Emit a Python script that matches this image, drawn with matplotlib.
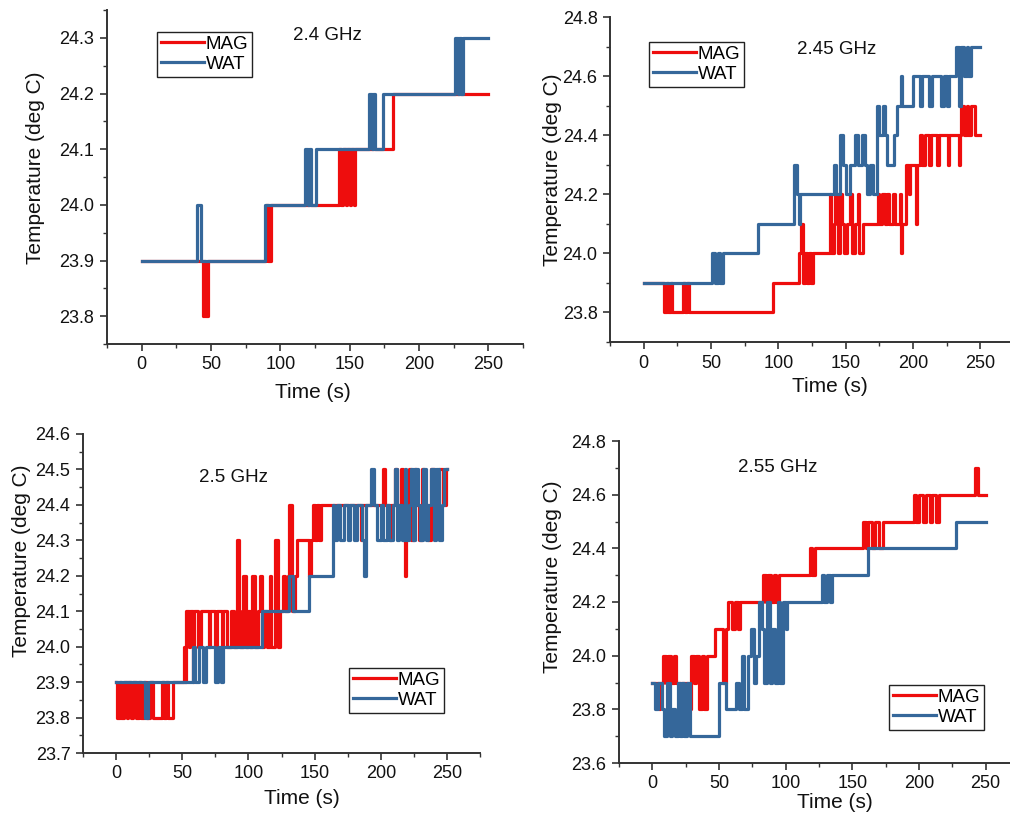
import matplotlib
matplotlib.use("Agg")
import matplotlib.pyplot as plt
from matplotlib.ticker import MultipleLocator, FormatStrFormatter

plt.rcParams['font.family'] = ['Liberation Sans', 'DejaVu Sans']

# ---- data: change points (time s, temperature deg C), held until next point ----
mag24_t = [0, 44, 45, 46, 48, 90, 91, 93, 142, 144, 145, 147, 148, 150, 151, 153, 154, 181, 250]
mag24_v = [23.9, 23.8, 23.9, 23.8, 23.9, 24.0, 23.9, 24.0, 24.1, 24.0, 24.1, 24.0, 24.1, 24.0, 24.1, 24.0, 24.1, 24.2, 24.2]
wat24_t = [0, 40, 43, 89, 118, 120, 121, 122, 126, 164, 166, 167, 168, 174, 226, 228, 229, 230, 232, 250]
wat24_v = [23.9, 24.0, 23.9, 24.0, 24.1, 24.0, 24.1, 24.0, 24.1, 24.2, 24.1, 24.2, 24.1, 24.2, 24.3, 24.2, 24.3, 24.2, 24.3, 24.3]

mag245_t = [0, 15, 17, 18, 20, 21, 29, 31, 32, 34, 96, 115, 117, 118, 120, 121, 123, 124, 126,
            138, 139, 141, 142, 144, 146, 147, 149, 151, 153, 155, 157, 159, 160, 163, 174, 175, 177,
            179, 181, 182, 185, 187, 190, 191, 192, 195, 197, 198, 202, 203, 205, 207, 209, 212, 213,
            218, 219, 226, 227, 234, 235, 236, 238, 240, 241, 243, 246, 250]
mag245_v = [23.9, 23.8, 23.9, 23.8, 23.9, 23.8, 23.9, 23.8, 23.9, 23.8, 23.9, 24.0, 24.1, 23.9, 24.0, 23.9, 24.0, 23.9, 24.0,
            24.2, 24.0, 24.1, 24.2, 24.0, 24.2, 24.1, 24.0, 24.1, 24.2, 24.0, 24.1, 24.2, 24.0, 24.1, 24.2, 24.1, 24.2,
            24.1, 24.2, 24.1, 24.2, 24.1, 24.2, 24.0, 24.1, 24.3, 24.2, 24.3, 24.1, 24.3, 24.4, 24.3, 24.4, 24.3, 24.4,
            24.3, 24.4, 24.3, 24.4, 24.3, 24.4, 24.5, 24.4, 24.5, 24.4, 24.5, 24.4, 24.4]
wat245_t = [0, 51, 53, 55, 57, 59, 85, 112, 114, 115, 116, 141, 143, 146, 148, 150, 153, 157, 159, 162,
            164, 166, 168, 170, 173, 175, 178, 179, 181, 186, 188, 191, 192, 200, 205, 207, 212, 214, 221,
            223, 225, 227, 232, 234, 236, 238, 240, 241, 243, 250]
wat245_v = [23.9, 24.0, 23.9, 24.0, 23.9, 24.0, 24.1, 24.3, 24.2, 24.1, 24.2, 24.3, 24.2, 24.4, 24.3, 24.2, 24.3, 24.4, 24.3, 24.4,
            24.3, 24.2, 24.3, 24.2, 24.5, 24.4, 24.5, 24.4, 24.3, 24.4, 24.5, 24.6, 24.5, 24.6, 24.5, 24.6, 24.5, 24.6, 24.5,
            24.6, 24.5, 24.6, 24.7, 24.5, 24.7, 24.6, 24.7, 24.6, 24.7, 24.7]

mag25_t = [0, 1, 3, 4, 6, 8, 9, 11, 13, 15, 17, 19, 21, 23, 26, 28, 35, 36, 38, 39, 43, 51, 52, 53, 55, 56, 58,
           59, 62, 64, 70, 71, 75, 76, 80, 81, 84, 87, 89, 91, 93, 94, 96, 98, 100, 101, 103, 105, 107, 109,
           110, 112, 114, 116, 117, 120, 122, 124, 126, 128, 130, 131, 133, 135, 137, 146, 147, 149, 150, 152,
           153, 155, 185, 186, 202, 203, 207, 208, 211, 212, 215, 217, 218, 219, 221, 223, 225, 227, 229, 231,
           233, 236, 238, 241, 244, 247, 249, 250]
mag25_v = [23.9, 23.8, 23.9, 23.8, 23.9, 23.8, 23.9, 23.8, 23.9, 23.8, 23.9, 23.8, 23.9, 23.8, 23.9, 23.8, 23.9, 23.8, 23.9, 23.8, 23.9, 24.0, 23.9, 24.1, 24.0, 24.1, 23.9,
           24.1, 24.0, 24.1, 24.0, 24.1, 24.0, 24.1, 24.0, 24.1, 24.0, 24.1, 24.0, 24.3, 24.1, 24.0, 24.2, 24.0, 24.1, 24.0, 24.2, 24.0, 24.1, 24.2,
           24.0, 24.1, 24.0, 24.2, 24.0, 24.3, 24.0, 24.1, 24.2, 24.1, 24.2, 24.4, 24.1, 24.2, 24.3, 24.2, 24.3, 24.4, 24.3, 24.4,
           24.3, 24.4, 24.3, 24.4, 24.5, 24.4, 24.3, 24.4, 24.5, 24.4, 24.5, 24.3, 24.2, 24.4, 24.5, 24.3, 24.5, 24.4, 24.3, 24.5,
           24.4, 24.3, 24.5, 24.4, 24.5, 24.4, 24.5, 24.5]
wat25_t = [0, 22, 24, 58, 60, 63, 66, 68, 75, 77, 79, 81, 110, 131, 134, 146, 164, 165, 167, 169, 172, 175, 177,
           180, 182, 186, 187, 189, 193, 195, 197, 200, 202, 205, 206, 209, 211, 212, 214, 216, 218, 219, 221,
           223, 224, 226, 228, 230, 232, 234, 236, 238, 240, 242, 244, 246, 248, 250]
wat25_v = [23.9, 23.8, 23.9, 24.0, 23.9, 24.0, 23.9, 24.0, 23.9, 24.0, 23.9, 24.0, 24.1, 24.2, 24.1, 24.2, 24.4, 24.3, 24.4, 24.3, 24.4, 24.3, 24.4,
           24.3, 24.4, 24.3, 24.2, 24.4, 24.5, 24.4, 24.3, 24.4, 24.3, 24.4, 24.3, 24.4, 24.5, 24.3, 24.4, 24.3, 24.5, 24.3, 24.4,
           24.5, 24.3, 24.5, 24.4, 24.3, 24.5, 24.3, 24.4, 24.5, 24.3, 24.5, 24.3, 24.4, 24.5, 24.5]

mag255_t = [0, 5, 6, 8, 10, 12, 14, 16, 18, 27, 29, 31, 33, 35, 37, 39, 41, 47, 53, 55, 57, 60, 62, 64, 66,
            83, 85, 87, 89, 91, 93, 95, 118, 120, 122, 158, 160, 162, 165, 167, 170, 173, 196, 198, 200,
            203, 205, 208, 210, 213, 215, 242, 244, 250]
mag255_v = [23.9, 23.8, 23.9, 24.0, 23.9, 24.0, 23.9, 24.0, 23.9, 23.8, 24.0, 23.9, 24.0, 23.8, 24.0, 23.8, 24.0, 24.1, 23.9, 24.1, 24.2, 24.1, 24.2, 24.1, 24.2,
            24.3, 24.2, 24.3, 24.2, 24.3, 24.2, 24.3, 24.4, 24.3, 24.4, 24.5, 24.4, 24.5, 24.4, 24.5, 24.4, 24.5, 24.6, 24.5, 24.6,
            24.5, 24.6, 24.5, 24.6, 24.5, 24.6, 24.7, 24.6, 24.6]
wat255_t = [0, 2, 4, 7, 9, 11, 13, 15, 17, 19, 21, 22, 24, 26, 28, 50, 55, 63, 65, 67, 69, 72, 74, 76, 78, 80,
            82, 84, 86, 88, 90, 92, 94, 96, 98, 100, 101, 127, 129, 131, 133, 135, 162, 228, 250]
wat255_v = [23.9, 23.8, 23.9, 23.8, 23.7, 23.9, 23.7, 23.8, 23.7, 23.9, 23.7, 23.9, 23.7, 23.9, 23.7, 23.9, 23.8, 23.9, 23.8, 24.0, 23.8, 24.0, 24.1, 23.9, 24.0, 24.2,
            24.1, 23.9, 24.2, 23.9, 24.1, 23.9, 24.2, 23.9, 24.2, 24.1, 24.2, 24.3, 24.2, 24.3, 24.2, 24.3, 24.4, 24.5, 24.5]

labels = ["2.4 GHz", "2.45 GHz", "2.5 GHz", "2.55 GHz"]

W, H = 1010, 814
fig = plt.figure(figsize=(W / 100, H / 100), dpi=100)

RED = '#ee0d0d'
BLUE = '#35679a'
SPINE = '#333333'
TXT = '#111111'


def px_axes(left, top, right, bottom):
    return fig.add_axes([left / W, 1 - bottom / H, (right - left) / W, (bottom - top) / H])


def panel(box, mt, mv, wt, wv, ylim, ymaj, label, lab_xy, leg_xy, ylab_xy, xlab_xy):
    ax = px_axes(*box)
    ax.step(mt, mv, where='post', color=RED, lw=2.3, label='MAG')
    ax.step(wt, wv, where='post', color=BLUE, lw=2.3, label='WAT')
    ax.set_xlim(-25, 275)
    ax.set_ylim(*ylim)
    ax.xaxis.set_major_locator(MultipleLocator(50))
    ax.xaxis.set_minor_locator(MultipleLocator(25))
    ax.yaxis.set_major_locator(MultipleLocator(ymaj))
    ax.yaxis.set_minor_locator(MultipleLocator(ymaj / 2))
    ax.yaxis.set_major_formatter(FormatStrFormatter('%.1f'))
    for s in ['top', 'right']:
        ax.spines[s].set_visible(False)
    for s in ['left', 'bottom']:
        ax.spines[s].set_color(SPINE)
        ax.spines[s].set_linewidth(1.4)
    ax.tick_params(which='major', direction='out', length=5, width=1.2, color=SPINE,
                   labelsize=13, labelcolor=TXT, pad=4)
    ax.tick_params(which='minor', direction='out', length=3, width=1.0, color=SPINE)
    ax.patch.set_alpha(0)
    fig.text(lab_xy[0] / W, 1 - lab_xy[1] / H, label, ha='center', va='center',
             fontsize=13.5, color=TXT)
    fig.text(ylab_xy[0] / W, 1 - ylab_xy[1] / H, 'Temperature (deg C)', rotation=90,
             ha='center', va='center', fontsize=15, color=TXT)
    fig.text(xlab_xy[0] / W, 1 - xlab_xy[1] / H, 'Time (s)', ha='center', va='center',
             fontsize=15, color=TXT)
    leg = ax.legend(loc='upper left', bbox_to_anchor=(leg_xy[0] / W, 1 - leg_xy[1] / H),
                    bbox_transform=fig.transFigure, fontsize=13.5, frameon=True, fancybox=False,
                    handlelength=2.3, handletextpad=0.1, borderpad=0.2, labelspacing=0.15,
                    borderaxespad=0, framealpha=1)
    leg.get_frame().set_edgecolor('#222222')
    leg.get_frame().set_linewidth(1.0)
    return ax


panel((107, 10, 523, 344), mag24_t, mag24_v, wat24_t, wat24_v, (23.75, 24.35), 0.1, labels[0],
      (327, 35), (157, 32), (36, 168), (313, 392))
panel((610, 17, 1014, 342), mag245_t, mag245_v, wat245_t, wat245_v, (23.7, 24.8), 0.2, labels[1],
      (837, 49), (649, 42), (552, 170), (830, 387))
panel((83, 434, 480, 753), mag25_t, mag25_v, wat25_t, wat25_v, (23.7, 24.6), 0.1, labels[2],
      (233, 477), (349, 668), (22, 561), (302, 799))
panel((619, 441, 1019, 763), mag255_t, mag255_v, wat255_t, wat255_v, (23.6, 24.8), 0.2, labels[3],
      (778, 468), (889, 685), (553, 577), (835, 802))

fig.savefig('out.png', dpi=100)
